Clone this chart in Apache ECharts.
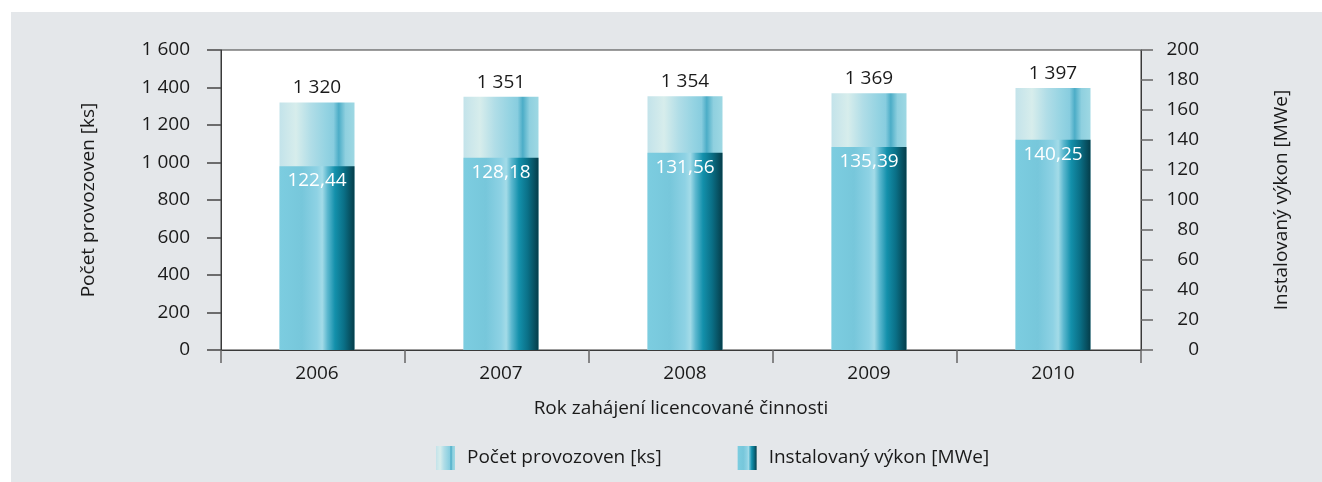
<!DOCTYPE html>
<html>
<head>
<meta charset="utf-8">
<title>Počet provozoven a instalovaný výkon</title>
<style>
    html, body { margin: 0; padding: 0; background: #fff; }
    #chart {
        width: 1322px; height: 482px;
        background: linear-gradient(#e4e7ea, #e4e7ea) 11px 12px / 100% 100% no-repeat, #fff;
    }
</style>
</head>
<body>
<div id="chart"></div>
<script src="https://cdn.jsdelivr.net/npm/echarts@6/dist/echarts.min.js"></script>
<script>
var years = ['2006', '2007', '2008', '2009', '2010'];
var pocet = [1320, 1351, 1354, 1369, 1397];          // Počet provozoven [ks]
var vykon = [122.44, 128.18, 131.56, 135.39, 140.25]; // Instalovaný výkon [MWe]

var font = 'Open Sans';
var txt = '#1a1a1a';
var fs = 19;

// light bar gradient (left to right)
var lightGrad = new echarts.graphic.LinearGradient(0, 0, 1, 0, [
    { offset: 0, color: '#c3e3ea' },
    { offset: 0.22, color: '#d7edec' },
    { offset: 0.42, color: '#b0dde7' },
    { offset: 0.62, color: '#94d3e2' },
    { offset: 0.72, color: '#88cddf' },
    { offset: 0.79, color: '#4cadc7' },
    { offset: 0.88, color: '#8fd0df' },
    { offset: 1, color: '#9ed8e3' }
]);
// dark bar gradient
var darkGrad = new echarts.graphic.LinearGradient(0, 0, 1, 0, [
    { offset: 0, color: '#7ccde0' },
    { offset: 0.3, color: '#77c7db' },
    { offset: 0.5, color: '#8ed2e4' },
    { offset: 0.57, color: '#a3dbe8' },
    { offset: 0.64, color: '#5cb8cf' },
    { offset: 0.74, color: '#1390ab' },
    { offset: 0.86, color: '#0a6f86' },
    { offset: 1, color: '#053d4a' }
]);

function spaced(v) {
    return String(v).replace(/\B(?=(\d{3})+(?!\d))/g, ' ');
}

var myChart = echarts.init(document.getElementById('chart'));

var option = {
    animation: false,
    textStyle: { fontFamily: font },
    grid: [
        {   // visible frame + axes
            left: 221, right: 181, top: 50, bottom: 132,
            show: true,
            backgroundColor: '#fff',
            borderColor: '#3a3a3a',
            borderWidth: 1
        },
        {   // bars sit a few px right of the category centre in the original
            left: 225, right: 177, top: 50, bottom: 132
        }
    ],
    legend: {
        left: 436,
        top: 446,
        padding: 0,
        icon: 'rect',
        itemWidth: 19,
        itemHeight: 24,
        itemGap: 76,
        textStyle: { fontFamily: font, fontSize: fs, color: txt, padding: [0, 0, 0, 7] },
        data: ['Počet provozoven [ks]', 'Instalovaný výkon [MWe]']
    },
    xAxis: [
        {
            type: 'category',
            gridIndex: 0,
            data: years,
            name: 'Rok zahájení licencované činnosti',
            nameLocation: 'middle',
            nameGap: 49,
            nameTextStyle: { fontFamily: font, fontSize: fs, color: txt },
            axisLine: { lineStyle: { color: '#3a3a3a', width: 1 } },
            axisTick: { show: true, length: 13, lineStyle: { color: '#666', width: 1.5 } },
            axisLabel: { show: false }
        },
        {
            type: 'category',
            gridIndex: 1,
            data: years,
            axisLine: { show: false },
            axisTick: { show: false },
            axisLabel: { fontFamily: font, fontSize: fs, color: txt, margin: 14 }
        }
    ],
    yAxis: [
        {
            type: 'value',
            gridIndex: 0,
            min: 0, max: 1600, interval: 200,
            name: 'Počet provozoven [ks]',
            nameLocation: 'middle',
            nameRotate: 90,
            nameGap: 123,
            nameTextStyle: { fontFamily: font, fontSize: fs, color: txt },
            axisLine: { show: true, lineStyle: { color: '#3a3a3a', width: 1 } },
            axisTick: { show: true, length: 14, lineStyle: { color: '#444', width: 1.5 } },
            splitLine: { show: false },
            axisLabel: { fontFamily: font, fontSize: fs, color: txt, margin: 31, formatter: spaced }
        },
        {
            type: 'value',
            gridIndex: 0,
            min: 0, max: 200, interval: 20,
            position: 'right',
            name: 'Instalovaný výkon [MWe]',
            nameLocation: 'middle',
            nameRotate: 90,
            nameGap: 131,
            nameTextStyle: { fontFamily: font, fontSize: fs, color: txt },
            axisLine: { show: true, lineStyle: { color: '#3a3a3a', width: 1 } },
            axisTick: { show: true, length: 12, lineStyle: { color: '#666', width: 1.5 } },
            splitLine: { show: false },
            axisLabel: { fontFamily: font, fontSize: fs, color: txt, margin: 58, align: 'right' }
        },
        { type: 'value', gridIndex: 1, min: 0, max: 1600, show: false },
        { type: 'value', gridIndex: 1, min: 0, max: 200, show: false }
    ],
    series: [
        {
            name: 'Počet provozoven [ks]',
            type: 'bar',
            xAxisIndex: 1,
            yAxisIndex: 2,
            data: pocet,
            barWidth: 75,
            barGap: '-100%',
            itemStyle: { color: lightGrad },
            label: {
                show: true, position: 'top', distance: 5,
                fontFamily: font, fontSize: fs, color: txt,
                formatter: function (p) { return spaced(p.value); }
            }
        },
        {
            name: 'Instalovaný výkon [MWe]',
            type: 'bar',
            xAxisIndex: 1,
            yAxisIndex: 3,
            data: vykon,
            barWidth: 75,
            barGap: '-100%',
            z: 3,
            itemStyle: { color: darkGrad },
            label: {
                show: true, position: 'insideTop', distance: 5,
                fontFamily: font, fontSize: fs, color: '#fff',
                formatter: function (p) { return p.value.toFixed(2).replace('.', ','); }
            }
        }
    ]
};

myChart.setOption(option);
</script>
</body>
</html>
